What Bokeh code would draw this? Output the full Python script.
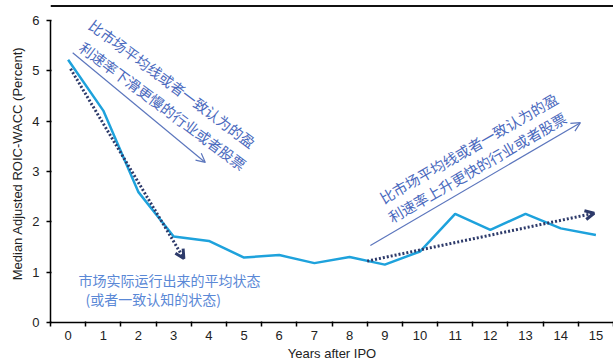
from bokeh.plotting import figure
from bokeh.models import FixedTicker, Range1d, Arrow, OpenHead, Span
from bokeh.core.properties import value
from bokeh.embed import file_html
from bokeh.resources import INLINE

# Median adjusted ROIC-WACC by years after IPO
years = list(range(16))
roic_wacc = [5.22, 4.21, 2.59, 1.71, 1.62, 1.29, 1.34, 1.18,
             1.30, 1.15, 1.41, 2.16, 1.84, 2.16, 1.87, 1.74]

y_ticks = [0, 1, 2, 3, 4, 5, 6]

# Dotted trend arrows (fast decline, slow rise)
decline_trend_x = [0.07, 3.29]
decline_trend_y = [5.04, 1.27]
rise_trend_x = [8.5, 14.95]
rise_trend_y = [1.22, 2.17]

# Thin annotation arrows
slower_arrow_x = [0.13, 3.9]
slower_arrow_y = [5.36, 3.18]
faster_arrow_x = [8.59, 14.56]
faster_arrow_y = [1.53, 3.97]

slower_text = ["比市场平均线或者一致认为的盈", "利速率下滑更慢的行业或者股票"]
faster_text = ["比市场平均线或者一致认为的盈", "利速率上升更快的行业或者股票"]
average_text = ["市场实际运行出来的平均状态", "(或者一致认知的状态)"]

LATIN = "Liberation Sans"
CJK = "Noto Sans CJK SC"

# frame runs up to the top rule; the y axis itself stops at 6
Y_TOP = 6.318
p = figure(width=613, height=363, output_backend="svg", toolbar_location=None,
           x_range=Range1d(-0.5, 15.5), y_range=Range1d(0, Y_TOP),
           min_border_left=50, min_border_right=0, min_border_top=4,
           min_border_bottom=41)
p.outline_line_color = None
p.xgrid.visible = False
p.ygrid.visible = False
p.background_fill_color = "white"
p.border_fill_color = "white"

# thin rule across the top
p.add_layout(Span(location=6.288, dimension="width", line_color="#111111",
                  line_width=2.2))

# x axis: labels at category centres, ticks at category boundaries
xa = p.xaxis[0]
xa.ticker = FixedTicker(ticks=years, minor_ticks=[y - 0.5 for y in years] + [15.5])
xa.major_tick_out = 0
xa.major_tick_in = 0
xa.minor_tick_out = 4
xa.minor_tick_in = 1
xa.minor_tick_line_color = "black"
xa.minor_tick_line_width = 1.5
xa.axis_line_color = "black"
xa.axis_line_width = 1.5
xa.major_label_standoff = 4
xa.major_label_text_font = LATIN
xa.major_label_text_font_size = "13px"
xa.major_label_text_color = "#222222"
xa.axis_label = "Years after IPO"
xa.axis_label_text_font = LATIN
xa.axis_label_text_font_size = "13px"
xa.axis_label_text_font_style = "normal"
xa.axis_label_text_color = "#222222"
xa.axis_label_standoff = 3

ya = p.yaxis[0]
ya.ticker = FixedTicker(ticks=y_ticks, minor_ticks=[])
ya.bounds = (0, 6)
ya.major_tick_out = 4
ya.major_tick_in = 1
ya.major_tick_line_width = 1.5
ya.axis_line_color = "black"
ya.axis_line_width = 1.5
ya.major_label_standoff = 7
ya.major_label_text_font = LATIN
ya.major_label_text_font_size = "13px"
ya.major_label_text_color = "#222222"
ya.axis_label = "Median Adjusted ROIC-WACC (Percent)"
ya.axis_label_text_font = LATIN
ya.axis_label_text_font_size = "13px"
ya.axis_label_text_font_style = "normal"
ya.axis_label_text_color = "#222222"
ya.axis_label_standoff = 4

# main series
p.line(years, roic_wacc, line_color="#1ea2dc", line_width=2.5)

# dotted trend arrows
TREND = "#2d3a6a"
for xs, ys in ((decline_trend_x, decline_trend_y), (rise_trend_x, rise_trend_y)):
    p.add_layout(Arrow(x_start=xs[0], y_start=ys[0], x_end=xs[1], y_end=ys[1],
                       line_color=TREND, line_width=3, line_dash="2 2",
                       end=OpenHead(size=9, line_color=TREND, line_width=3)))

# thin annotation arrows
THIN = "#5c76bd"
for xs, ys in ((slower_arrow_x, slower_arrow_y), (faster_arrow_x, faster_arrow_y)):
    p.add_layout(Arrow(x_start=xs[0], y_start=ys[0], x_end=xs[1], y_end=ys[1],
                       line_color=THIN, line_width=1.2,
                       end=OpenHead(size=9, line_color=THIN, line_width=1.2)))

NOTE = "#4a69bd"
p.text(x=[2.97, 2.70], y=[4.75, 4.31], text=slower_text, angle=-0.64,
       text_align="center", text_baseline="middle",
       text_font=value(CJK), text_font_size="14.5px", text_color=NOTE)
p.text(x=[11.38, 11.62], y=[3.47, 3.09], text=faster_text, angle=0.526,
       text_align="center", text_baseline="middle",
       text_font=value(CJK), text_font_size="14.5px", text_color=NOTE)
p.text(x=[0.295, 0.494], y=[0.845, 0.457], text=average_text,
       text_align="left", text_baseline="middle",
       text_font=value(CJK), text_font_size="14px", text_color="#5a88d6")

open("out.html", "w").write(file_html(p, INLINE))
